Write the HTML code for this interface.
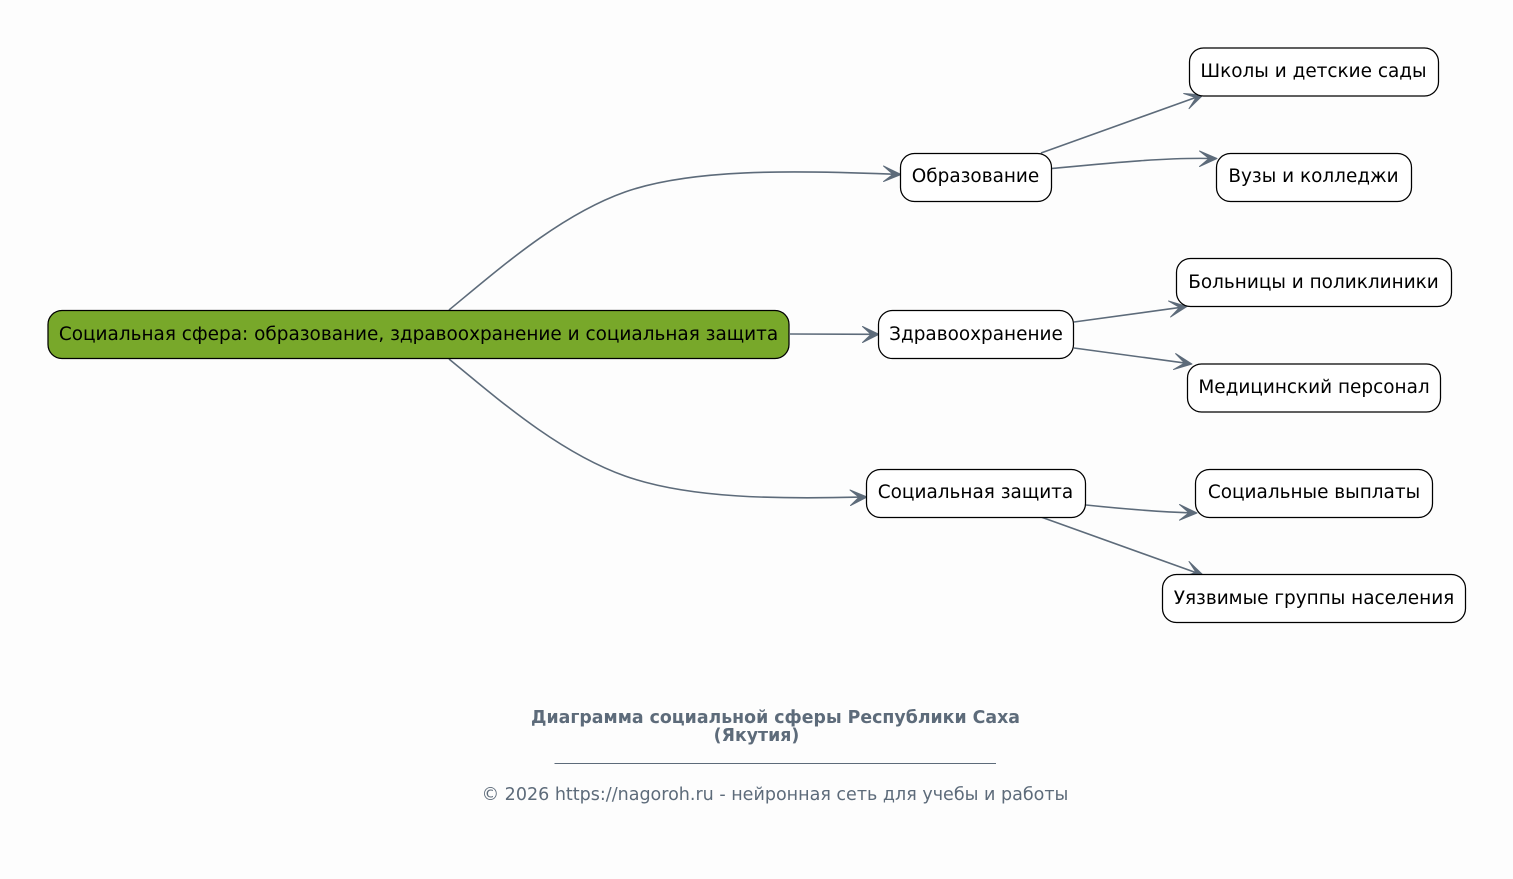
<!DOCTYPE html>
<html lang="ru">
<head>
<meta charset="utf-8">
<title>Диаграмма социальной сферы</title>
<style>
html,body{margin:0;padding:0;background:#fdfdfd;overflow:hidden;}
svg{display:block;}
text{font-family:"DejaVu Sans",sans-serif;}
.n{font-size:18.46px;fill:#000;text-anchor:middle;}
.b{fill:#fff;stroke:#000;stroke-width:1.25;}
.e{fill:none;stroke:#5d6b7a;stroke-width:1.6;}
.a{fill:#5d6b7a;stroke:#5d6b7a;stroke-width:1;stroke-linejoin:round;}
</style>
</head>
<body>
<svg width="1513" height="879" viewBox="0 0 1513 879" xmlns="http://www.w3.org/2000/svg">
<rect width="1513" height="879" fill="#fdfdfd"/>

<path class="e" d="M449 310C500 268 560 215 625 192C690 169 790 170 895 174.300"/>
<path class="e" d="M790 334L873 334.300"/>
<path class="e" d="M449 359C500 401 560 453 625 476C690 499 780 499 861 497.100"/>
<path class="e" d="M1041 153L1197 97"/>
<path class="e" d="M1052 168.500C1110 163 1165 157.500 1211 158.500"/>
<path class="e" d="M1074 322L1181 307.300"/>
<path class="e" d="M1074 348L1186 363.200"/>
<path class="e" d="M1086 505C1125 509 1160 512 1191 512.800"/>
<path class="e" d="M1041 517L1197 573"/>

<polygon class="a" points="901,174.500 883.500,166 893,174.300 883.500,181.500"/>
<polygon class="a" points="879,334.300 862.500,326.500 871,334.300 862.500,342.500"/>
<polygon class="a" points="867,497 850,490 859,497.200 850.500,505.500"/>
<polygon class="a" points="1203,95 1183.700,93.500 1196,97.600 1189,108.600"/>
<polygon class="a" points="1217,158.500 1199.500,151 1209,158.500 1199.500,166.500"/>
<polygon class="a" points="1187,306.500 1168.500,301 1179.600,307.500 1170.600,317"/>
<polygon class="a" points="1192,364 1175.600,353.600 1184.600,363 1173.500,369.500"/>
<polygon class="a" points="1197,513 1179.500,504.500 1189,512.800 1179.500,520.200"/>
<polygon class="a" points="1203,575 1189,561.500 1196,572.400 1183.700,576.500"/>

<rect x="48" y="310.500" width="741" height="48" rx="14" fill="#78a82a" stroke="#000" stroke-width="1.25"/>
<text class="n" x="418.500" y="340">Социальная сфера: образование, здравоохранение и социальная защита</text>

<rect class="b" x="900.500" y="153.500" width="151" height="48" rx="14"/>
<text class="n" x="975.500" y="182">Образование</text>
<rect class="b" x="878.500" y="310.500" width="195" height="48" rx="14"/>
<text class="n" x="976" y="340">Здравоохранение</text>
<rect class="b" x="866.500" y="469.500" width="219" height="48" rx="14"/>
<text class="n" x="975.500" y="498">Социальная защита</text>

<rect class="b" x="1189.500" y="48" width="249" height="48" rx="14"/>
<text class="n" x="1313.500" y="77">Школы и детские сады</text>
<rect class="b" x="1216.500" y="153.500" width="195" height="48" rx="14"/>
<text class="n" x="1313.500" y="182">Вузы и колледжи</text>
<rect class="b" x="1176.500" y="258.500" width="275" height="48" rx="14"/>
<text class="n" x="1313.500" y="288">Больницы и поликлиники</text>
<rect class="b" x="1187.500" y="364" width="253" height="48" rx="14"/>
<text class="n" x="1314" y="393">Медицинский персонал</text>
<rect class="b" x="1195.500" y="469.500" width="237" height="48" rx="14"/>
<text class="n" x="1314" y="498">Социальные выплаты</text>
<rect class="b" x="1162.500" y="574.500" width="303" height="48" rx="14"/>
<text class="n" x="1314" y="604">Уязвимые группы населения</text>

<text x="775.500" y="723" text-anchor="middle" font-size="17.35" font-weight="700" fill="#5d6b7a">Диаграмма социальной сферы Республики Саха</text>
<text x="756.500" y="741" text-anchor="middle" font-size="17.35" font-weight="700" fill="#5d6b7a">(Якутия)</text>
<line x1="554.500" y1="763.500" x2="996" y2="763.500" stroke="#5d6b7a" stroke-width="1"/>
<text x="775" y="800" text-anchor="middle" font-size="17.53" fill="#5d6b7a">© 2026 https://nagoroh.ru - нейронная сеть для учебы и работы</text>
</svg>
</body>
</html>
